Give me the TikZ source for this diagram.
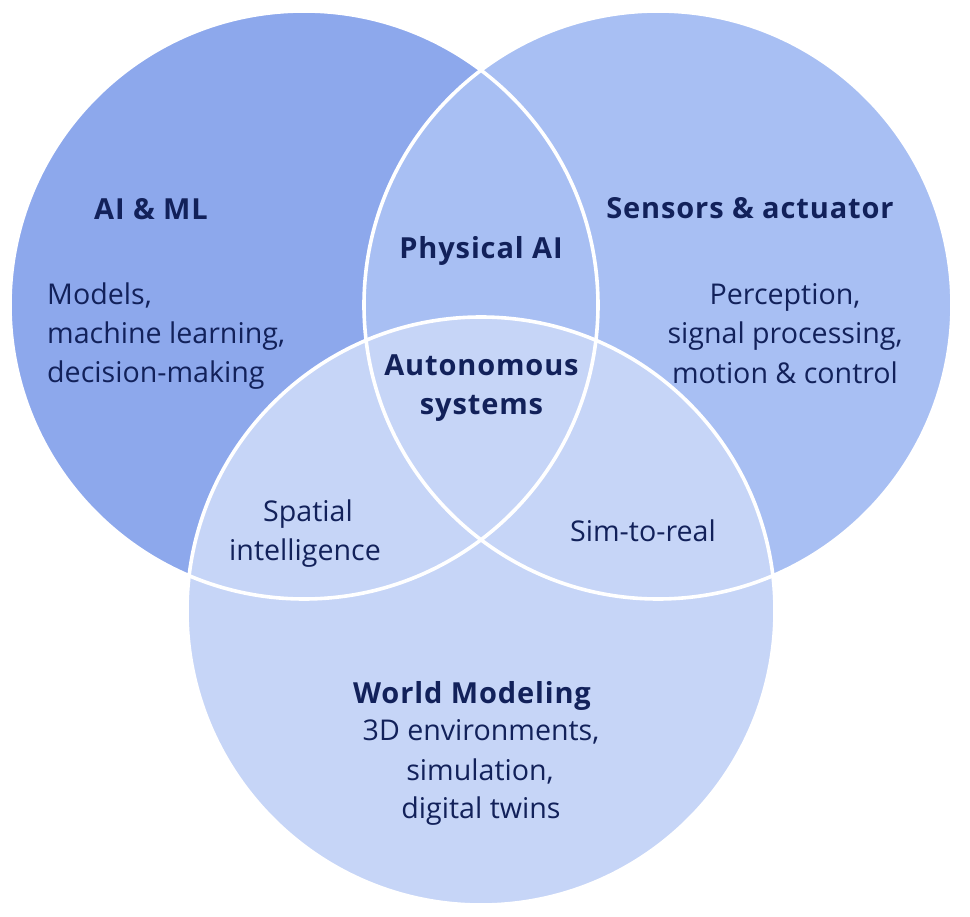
\documentclass[tikz,border=0pt]{standalone}
\usepackage{fontspec}
\setmainfont{Open Sans}
\newfontfamily\headfont[LetterSpace=3]{Open Sans Bold}
\definecolor{cleft}{HTML}{8DA8EC}
\definecolor{cright}{HTML}{A8BFF3}
\definecolor{cbottom}{HTML}{C6D5F7}
\definecolor{ink}{HTML}{12215A}
\tikzset{
  ring/.style={draw=white, line width=3.6pt},
  head/.style={anchor=base, text=ink, inner sep=0pt, font=\headfont\fontsize{29}{34}\selectfont},
  body/.style={anchor=base, text=ink, inner sep=0pt, font=\fontsize{28.6}{34}\selectfont},
  bodyl/.style={body, anchor=base west}
}
\begin{document}
\begin{tikzpicture}[x=1pt,y=-1pt]
\useasboundingbox (0,0) rectangle (970,917);
% fills
\fill[cleft] (304,305) circle (294);
\fill[cright] (658,305) circle (294);
\fill[cbottom] (481,611) circle (294);
% outlines
\draw[ring] (304,305) circle (294);
\draw[ring] (658,305) circle (294);
\draw[ring] (481,611) circle (294);
% AI & ML
\node[head] (aiml) at (151,220) {AI \& ML};
\node[bodyl] (aiml1) at (47,305) {Models,};
\node[bodyl] (aiml2) at (47,344) {machine learning,};
\node[bodyl] (aiml3) at (47,383) {decision-making};
% Sensors
\node[head] (sens) at (750,219) {Sensors \& actuator};
\node[body] (sens1) at (785,305) {Perception,};
\node[body] (sens2) at (785,344) {signal processing,};
\node[body] (sens3) at (785,384) {motion \& control};
% Physical AI
\node[head] (phys) at (481,259) {Physical AI};
% Autonomous systems
\node[head] (auto1) at (481.5,376) {Autonomous};
\node[head] (auto2) at (481.5,415) {systems};
% Spatial intelligence
\node[body] (spat1) at (308,521) {Spatial};
\node[body] (spat2) at (305,560) {intelligence};
% Sim-to-real
\node[body] (sim) at (643,541) {Sim-to-real};
% World Modeling
\node[head] (world) at (472,703) {World Modeling};
\node[body] (world1) at (481,740) {3D environments,};
\node[body] (world2) at (480,780) {simulation,};
\node[body] (world3) at (481,818) {digital twins};
\end{tikzpicture}
\end{document}
